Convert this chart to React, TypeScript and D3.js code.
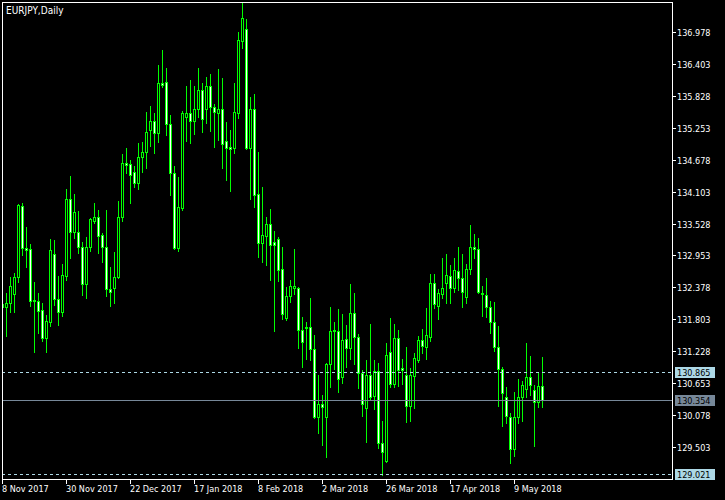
import React from "react";
import * as d3 from "d3";

const symbolTitle = "EURJPY,Daily";

const openP = [132.08,132.03,132.10,132.26,132.57,133.84,133.09,133.07,132.15,132.13,
131.97,131.47,131.76,132.98,132.17,131.94,132.58,133.97,133.38,133.38,
133.11,132.44,133.11,133.57,133.65,133.32,133.11,132.35,132.37,132.57,
133.65,134.62,134.60,134.45,134.26,134.72,134.81,135.21,135.37,135.16,
136.06,136.07,135.32,134.44,133.09,133.81,135.44,135.52,135.37,135.59,
135.93,135.59,136.00,135.62,135.52,135.59,135.01,134.90,134.89,135.52,
136.81,137.03,134.89,135.59,134.06,133.18,133.30,133.52,133.20,133.25,
132.71,131.83,132.22,132.37,132.37,131.61,131.65,131.67,131.27,130.05,
130.28,130.05,131.00,131.61,131.59,130.77,131.45,131.29,131.92,131.49,
130.84,130.21,130.80,130.42,130.87,129.58,129.26,131.22,130.64,131.47,
130.93,130.80,130.25,130.78,131.07,131.43,131.31,131.49,132.46,132.04,
132.26,132.46,132.58,132.37,132.67,132.55,132.21,132.71,133.11,133.07,
132.28,132.24,132.03,131.76,131.31,130.91,130.41,130.05,129.47,130.05,
130.41,130.55,130.77,130.53,130.32,130.60];

const highP = [132.19,132.28,132.57,132.64,133.88,133.90,133.47,133.16,132.48,132.28,
132.10,131.88,133.25,133.23,132.58,132.80,134.15,134.38,134.06,133.75,
133.20,133.29,133.63,133.90,133.77,133.36,133.77,132.75,133.02,133.93,
134.78,134.89,134.67,134.56,134.98,134.99,135.53,135.64,135.52,136.38,
136.65,136.33,135.48,134.56,134.36,135.55,136.00,136.11,136.00,136.33,
136.06,136.16,136.22,135.68,136.31,136.15,135.35,135.21,136.06,136.97,
137.49,137.21,135.80,135.86,134.81,134.18,133.65,133.79,133.39,133.29,
133.11,132.39,132.51,133.07,132.39,131.85,131.76,132.19,131.52,130.80,
130.44,131.02,132.03,131.76,131.99,131.90,131.70,132.44,132.28,131.54,
130.89,131.07,131.72,131.07,131.02,129.98,131.38,131.83,131.72,131.61,
131.09,131.31,130.93,131.20,131.50,131.63,132.01,132.62,132.62,132.35,
132.91,132.98,132.78,132.91,133.11,132.98,132.80,133.50,133.34,133.27,
132.40,132.55,132.13,132.12,131.68,130.95,130.59,130.12,130.50,130.73,
130.70,131.38,131.15,130.62,130.86,131.13];

const lowP = [131.97,131.50,131.94,131.94,132.48,132.96,132.75,132.04,131.22,131.56,
131.42,131.22,131.68,132.06,131.70,131.86,132.51,132.91,133.27,133.00,
132.24,132.19,133.03,133.54,133.00,132.84,132.22,132.04,132.10,132.55,
133.57,134.44,133.90,134.18,134.15,134.45,134.53,134.92,134.80,134.99,
135.98,135.12,134.04,133.07,133.03,133.77,135.01,134.98,135.14,135.44,
135.17,135.34,135.19,134.90,135.03,134.53,134.31,134.11,134.80,135.43,
136.69,134.87,133.97,133.82,132.93,132.84,132.78,132.51,131.59,132.49,
131.81,131.79,132.12,132.26,131.29,130.95,131.09,131.07,130.03,129.76,
129.55,129.33,130.59,130.91,130.50,130.66,130.95,131.09,131.00,130.57,
130.07,129.60,130.35,130.19,129.49,129.00,129.24,130.59,130.59,130.61,
130.64,129.96,129.98,130.21,131.04,131.20,131.09,131.42,132.01,131.81,
132.19,132.10,132.10,132.30,132.33,132.03,132.10,132.62,132.91,132.28,
131.86,131.85,131.56,131.24,130.25,129.89,129.94,129.22,129.35,129.94,
129.98,130.41,130.44,129.53,130.23,130.23];

const closeP = [132.03,132.10,132.40,132.57,133.86,133.09,133.05,132.13,132.13,131.95,
131.47,131.77,133.05,132.17,131.94,132.60,133.97,133.38,133.74,133.11,
132.44,133.11,133.61,133.65,133.30,133.11,132.35,132.30,132.57,133.65,
134.62,134.58,134.40,134.26,134.72,134.81,135.17,135.37,135.16,136.06,
136.02,135.32,134.44,133.09,133.83,135.52,135.52,135.37,135.59,135.93,
135.41,136.00,135.62,135.53,135.59,134.96,134.89,134.87,135.53,136.83,
137.22,134.89,135.59,134.04,133.18,133.32,133.52,133.14,133.14,132.69,
131.90,132.22,132.40,132.40,131.61,131.40,131.67,131.27,130.05,130.28,
130.23,131.00,131.59,131.59,130.73,131.43,131.29,131.92,131.49,130.84,
130.28,130.80,130.41,130.87,129.58,129.42,131.16,130.64,131.47,130.89,
130.89,130.25,130.80,131.11,131.43,131.32,131.52,132.46,132.08,132.28,
132.37,132.60,132.37,132.69,132.55,132.30,132.71,133.11,133.07,132.30,
132.26,132.03,131.76,131.31,130.91,130.48,130.07,129.47,130.05,130.41,
130.62,130.77,130.62,130.32,130.60,130.354];

const priceTicks = [136.978,136.403,135.828,135.253,134.678,134.103,133.528,132.953,132.378,131.803,131.228,130.653,130.078,129.503];
const dateTickLabels = ["8 Nov 2017","30 Nov 2017","22 Dec 2017","17 Jan 2018","8 Feb 2018","2 Mar 2018","26 Mar 2018","17 Apr 2018","9 May 2018"];
const firstDate = "2017-11-08";
const holidays = ["2017-12-25", "2018-01-01"];
const bidPrice = 130.354;
const dashedLevels = [130.865, 129.021];

const monthNames = ["Jan","Feb","Mar","Apr","May","Jun","Jul","Aug","Sep","Oct","Nov","Dec"];

function buildDates(n: number): string[] {
  const out: string[] = [];
  const d = new Date(firstDate + "T00:00:00Z");
  while (out.length < n) {
    const dow = d.getUTCDay();
    const iso = d.toISOString().slice(0, 10);
    if (dow !== 0 && dow !== 6 && !holidays.includes(iso)) {
      out.push(`${d.getUTCDate()} ${monthNames[d.getUTCMonth()]} ${d.getUTCFullYear()}`);
    }
    d.setUTCDate(d.getUTCDate() + 1);
  }
  return out;
}

const W = 725, H = 500;
const L = 2, T = 2, R = 672, B = 479;
const FONT = "'DejaVu Sans Condensed', 'DejaVu Sans', sans-serif";
const GREEN = "#00ff00";
const LIGHTBLUE = "#add8e6";
const SLATE = "#778899";

export default function App() {
  const n = closeP.length;
  const dates = buildDates(n);
  const x = d3.scaleLinear().domain([0, n - 1]).range([2.5, 2.5 + 4 * (n - 1)]);
  const y = d3.scaleLinear().domain([128.933, 137.512]).range([B, T]);
  const py = (p: number) => Math.round(y(p));

  const candles = d3.range(n).map((i) => {
    const o = openP[i], h = highP[i], l = lowP[i], c = closeP[i];
    const cx = x(i);
    const top = py(Math.max(o, c)) + 0.5;
    const bot = py(Math.min(o, c)) + 0.5;
    const bear = c < o;
    return (
      <g key={i}>
        <line x1={cx} x2={cx} y1={py(h)} y2={py(l) + 1} stroke={GREEN} strokeWidth={1} />
        <path d={`M${cx - 1},${top}H${cx + 1}V${bot}H${cx - 1}Z`} fill={bear ? "#ffffff" : "#000000"} stroke={GREEN} strokeWidth={1} />
      </g>
    );
  });

  const dateTicks = dateTickLabels.map((lab) => ({ lab, i: dates.indexOf(lab) })).filter((t) => t.i >= 0);

  return (
    <svg width={W} height={H} style={{ position: "absolute", left: 0, top: 0, display: "block" }} xmlns="http://www.w3.org/2000/svg">
      <defs>
        <clipPath id="plot">
          <rect x={L + 1} y={T + 1} width={R - L - 1} height={B - T - 1} />
        </clipPath>
      </defs>
      <rect x={0} y={0} width={W} height={H} fill="#000" />
      <g clipPath="url(#plot)" shapeRendering="crispEdges">{candles}</g>
      <g shapeRendering="crispEdges">
        {dashedLevels.map((lv) => (
          <line key={lv} x1={L} x2={R} y1={py(lv) + 0.5} y2={py(lv) + 0.5} stroke={LIGHTBLUE} strokeDasharray="3,3" />
        ))}
        <line x1={L} x2={R} y1={py(bidPrice) + 0.5} y2={py(bidPrice) + 0.5} stroke={SLATE} />
        <rect x={L + 0.5} y={T + 0.5} width={R - L} height={B - T} fill="none" stroke="#fff" />
        {priceTicks.map((p) => (
          <line key={p} x1={R} x2={R + 4} y1={py(p) + 0.5} y2={py(p) + 0.5} stroke="#fff" />
        ))}
        {dateTicks.map((t) => (
          <line key={t.lab} x1={x(t.i)} x2={x(t.i)} y1={B} y2={B + 5} stroke="#fff" />
        ))}
      </g>
      <g fontFamily={FONT} fontSize={9} style={{ fontStretch: "condensed" }}>
        {priceTicks.map((p) => (
          <text key={p} x={R + 5} y={py(p) + 3.5} fill="#fff">{p.toFixed(3)}</text>
        ))}
        {dashedLevels.map((lv) => (
          <g key={lv}>
            <rect x={R + 3} y={py(lv) - 5} width={40} height={11} fill={LIGHTBLUE} />
            <text x={R + 5} y={py(lv) + 3.5} fill="#000">{lv.toFixed(3)}</text>
          </g>
        ))}
        <rect x={R + 3} y={py(bidPrice) - 5} width={40} height={11} fill={SLATE} />
        <text x={R + 5} y={py(bidPrice) + 3.5} fill="#000">{bidPrice.toFixed(3)}</text>
        {dateTicks.map((t) => (
          <text key={t.lab} x={x(t.i) - 0.5} y={492} fill="#fff">{t.lab}</text>
        ))}
      </g>
      <text x={6} y={14} fill="#fff" fontFamily={FONT} fontSize={10} style={{ fontStretch: "condensed" }}>{symbolTitle}</text>
    </svg>
  );
}
